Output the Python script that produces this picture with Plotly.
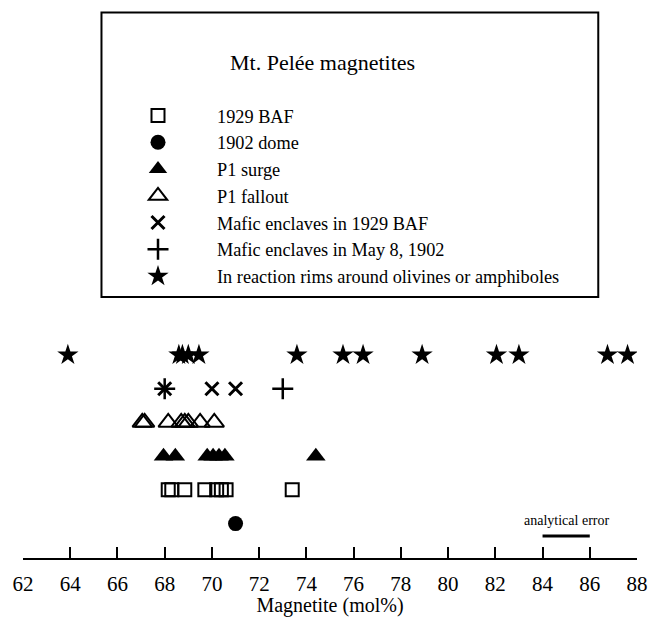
import plotly.graph_objects as go

# ---------------- data (Magnetite, mol%) ----------------
baf_1929 = [68.15, 68.3, 68.85, 69.7, 70.2, 70.4, 70.6, 73.4]
dome_1902 = [71.0]
p1_surge = [67.95, 68.45, 69.8, 70.05, 70.3, 70.55, 74.4]
p1_fallout = [67.05, 67.15, 68.15, 68.7, 68.85, 69.0, 69.5, 70.1]
enclaves_1929_baf = [68.0, 70.0, 71.0]
enclaves_may_1902 = [68.0, 73.0]
reaction_rims = [63.9, 68.6, 68.75, 69.0, 69.45, 73.6, 75.55, 76.4, 78.9,
                 82.05, 83.0, 86.75, 87.6]
analytical_error = [84, 86]

series_names = ["1929 BAF", "1902 dome", "P1 surge", "P1 fallout",
                "Mafic enclaves in 1929 BAF", "Mafic enclaves in May 8, 1902",
                "In reaction rims around olivines or amphiboles"]
x_ticks = list(range(62, 89, 2))

# ---------------- styling ----------------
FONT = "Liberation Serif, Times New Roman, serif"
# row (hidden y level) for each series, bottom to top
rows = {"1902 dome": 0, "1929 BAF": 1, "P1 surge": 2, "P1 fallout": 3,
        "Mafic enclaves in 1929 BAF": 4, "Mafic enclaves in May 8, 1902": 4,
        "In reaction rims around olivines or amphiboles": 5}
styles = {
    "1929 BAF": dict(symbol="square-open", size=13, color="black",
                     line=dict(width=2, color="black")),
    "1902 dome": dict(symbol="circle", size=15, color="black"),
    "P1 surge": dict(symbol="triangle-up", size=17, color="black"),
    "P1 fallout": dict(symbol="triangle-up-open", size=17, color="black",
                       line=dict(width=2, color="black")),
    "Mafic enclaves in 1929 BAF": dict(symbol="x-thin", size=13, color="black",
                                       line=dict(width=3, color="black")),
    "Mafic enclaves in May 8, 1902": dict(symbol="cross-thin", size=15, color="black",
                                          line=dict(width=2.5, color="black")),
    "In reaction rims around olivines or amphiboles": dict(symbol="star", size=16,
                                                           color="black"),
}
values = {
    "1929 BAF": baf_1929,
    "1902 dome": dome_1902,
    "P1 surge": p1_surge,
    "P1 fallout": p1_fallout,
    "Mafic enclaves in 1929 BAF": enclaves_1929_baf,
    "Mafic enclaves in May 8, 1902": enclaves_may_1902,
    "In reaction rims around olivines or amphiboles": reaction_rims,
}

fig = go.Figure()
for name in series_names:
    xs = values[name]
    fig.add_trace(go.Scatter(
        x=xs, y=[rows[name]] * len(xs), mode="markers", name=name,
        marker=styles[name], hoverinfo="x+name"))

# analytical error bar
ERR_Y = -0.37
fig.add_trace(go.Scatter(x=analytical_error, y=[ERR_Y, ERR_Y], mode="lines",
                         line=dict(color="black", width=3), showlegend=False,
                         hoverinfo="skip"))
fig.add_annotation(x=sum(analytical_error) / 2, y=0.09, xref="x", yref="y",
                   text="analytical error", showarrow=False,
                   font=dict(family=FONT, size=14, color="black"))

# plot geometry (pixels)
W, H = 651, 617
L, R = 23.3, 636.7
TOP, BOT = 330, 558.5
ph = BOT - TOP
pw = R - L

def px(xp):
    return (xp - L) / pw

def py(yp):
    return (BOT - yp) / ph

# legend frame
fig.add_shape(type="rect", xref="paper", yref="paper",
              x0=px(101.7), x1=px(598), y0=py(297), y1=py(11.7),
              line=dict(color="black", width=2), fillcolor="rgba(0,0,0,0)")
fig.add_annotation(xref="paper", yref="paper", x=px(322.5), y=py(61.5),
                   text="Mt. Pelée magnetites", showarrow=False,
                   xanchor="center", yanchor="middle",
                   font=dict(family=FONT, size=22, color="black"))

fig.update_layout(
    width=W, height=H,
    margin=dict(l=L, r=W - R, t=TOP, b=H - BOT, pad=0, autoexpand=False),
    paper_bgcolor="white", plot_bgcolor="white",
    font=dict(family=FONT, color="black"),
    showlegend=True,
    legend=dict(xref="container", yref="container",
                x=99 / W, y=1 - 97 / H, xanchor="left", yanchor="top",
                bgcolor="rgba(0,0,0,0)", borderwidth=0,
                font=dict(family=FONT, size=18.3, color="black"),
                itemwidth=108, tracegroupgap=0),
    xaxis=dict(range=[62, 88], tickvals=x_ticks, ticktext=[str(t) for t in x_ticks],
               showgrid=False, zeroline=False, showline=True, linecolor="black",
               linewidth=2, ticks="inside", ticklen=11, tickwidth=2,
               tickcolor="black", ticklabelstandoff=6, automargin=False,
               tickfont=dict(family=FONT, size=21, color="black"),
               title=dict(text="Magnetite (mol%)", standoff=10,
                          font=dict(family=FONT, size=20, color="black"))),
    yaxis=dict(range=[-1.02, 5.74], visible=False, showgrid=False, zeroline=False),
)

fig.write_html("out.html",
               config={"displayModeBar": False},
               post_script="document.body.style.margin='0';"
                           "document.body.style.overflow='hidden';")
